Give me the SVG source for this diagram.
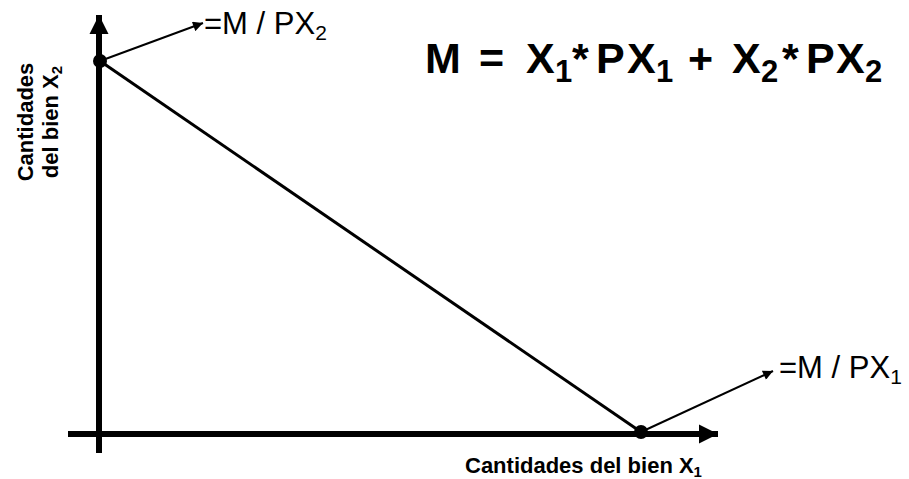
<svg xmlns="http://www.w3.org/2000/svg" width="909" height="479" viewBox="0 0 909 479">
<style>
.lbl{font-family:"Liberation Sans",Arial,sans-serif;font-size:31px;fill:#000}
.ax{font-family:"Liberation Sans",Arial,sans-serif;font-size:22px;font-weight:bold;fill:#000}
.eq{font-family:"Liberation Sans",Arial,sans-serif;font-size:43px;font-weight:bold;fill:#000}
.sub{font-size:31px}
.axis{stroke:#000;stroke-width:6;fill:none}
.thin{stroke:#000;stroke-width:2;fill:none}
</style>
<defs>
<marker id="big" viewBox="0 0 10 10" refX="10" refY="5" markerWidth="3.2" markerHeight="3.2" orient="auto" markerUnits="strokeWidth"><path d="M0,0 L10,5 L0,10 Z" fill="#000"/></marker>
<marker id="small" viewBox="0 0 10 10" refX="10" refY="5" markerWidth="6" markerHeight="5" orient="auto" markerUnits="strokeWidth"><path d="M0,0 L10,5 L0,10 Z" fill="#000"/></marker>
</defs>
<g id="axes">
<line class="axis" x1="99" y1="453" x2="99" y2="15" marker-end="url(#big)"/>
<line class="axis" x1="68" y1="434" x2="718" y2="434" marker-end="url(#big)"/>
</g>
<g id="connectors">
<line x1="100" y1="61" x2="203" y2="23" class="thin" marker-end="url(#small)"/>
<line x1="100" y1="61" x2="641" y2="432" stroke="#000" stroke-width="3"/>
<line class="thin" x1="641" y1="432" x2="773" y2="371" marker-end="url(#small)"/>
</g>
<g id="pointA"><circle cx="100" cy="61" r="7" fill="#000"/></g>
<g id="pointB"><circle cx="641" cy="432" r="7" fill="#000"/></g>
<g id="labelA"><text class="lbl" x="204" y="34">=M / PX<tspan font-size="21" dy="6">2</tspan></text></g>
<g id="labelB"><text class="lbl" x="779" y="378">=M / PX<tspan font-size="21" dy="6">1</tspan></text></g>
<g id="equation"><text class="eq" y="73"><tspan x="425">M</tspan><tspan x="479">=</tspan><tspan x="526">X</tspan><tspan class="sub" x="555" y="82">1</tspan><tspan x="572" y="73">*</tspan><tspan x="596">P</tspan><tspan x="627">X</tspan><tspan class="sub" x="656" y="82">1</tspan><tspan x="688" y="73">+</tspan><tspan x="732">X</tspan><tspan class="sub" x="761" y="82">2</tspan><tspan x="782" y="73">*</tspan><tspan x="806">P</tspan><tspan x="836">X</tspan><tspan class="sub" x="865" y="82">2</tspan></text></g>
<g id="xlabel"><text class="ax" font-size="23" x="465" y="473">Cantidades del bien X<tspan font-size="15" dy="4">1</tspan></text></g>
<g id="ylabel"><text class="ax" transform="translate(33,122) rotate(-90)" text-anchor="middle">Cantidades</text><text class="ax" transform="translate(58,122) rotate(-90)" text-anchor="middle">del bien X<tspan font-size="15" dy="4">2</tspan></text></g>
</svg>
